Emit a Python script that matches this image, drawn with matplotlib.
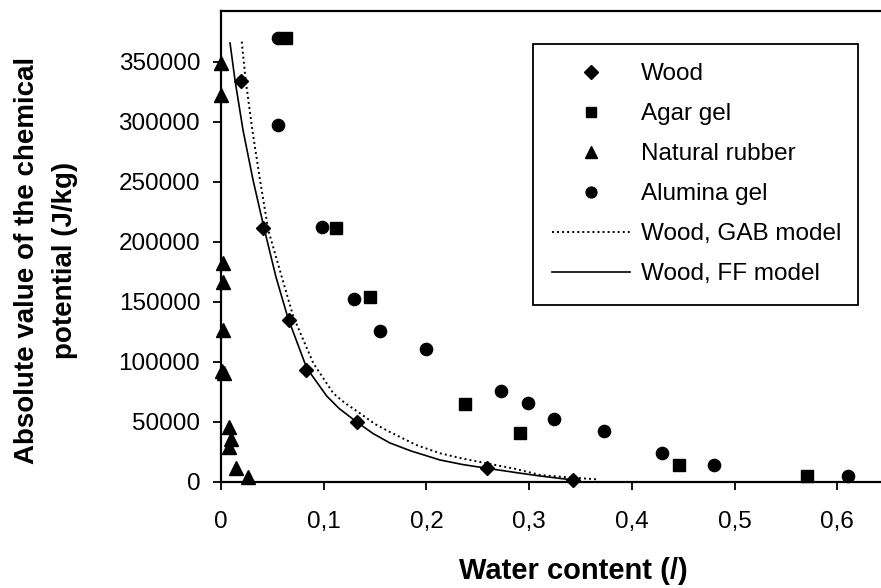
import numpy as np
import matplotlib.pyplot as plt
from matplotlib.lines import Line2D

plt.rcParams['font.family'] = ['Liberation Sans', 'DejaVu Sans']

# measured points
wood_x = [0.019, 0.041, 0.066, 0.083, 0.132, 0.259, 0.343]
wood_y = [333900, 211200, 134750, 93100, 49500, 11200, 1400]

agar_x = [0.063, 0.112, 0.145, 0.238, 0.291, 0.446, 0.570]
agar_y = [369500, 211200, 154200, 64500, 40800, 13900, 4750]

rubber_x = [0.0, 0.0, 0.0017, 0.0017, 0.0017, 0.001, 0.003, 0.0081, 0.0094, 0.0081, 0.0146, 0.0266]
rubber_y = [348600, 322200, 182500, 166700, 126400, 92500, 90500, 45800, 35300, 29200, 11200, 4200]

alumina_x = [0.055, 0.055, 0.098, 0.129, 0.155, 0.200, 0.273, 0.299, 0.324, 0.373, 0.429, 0.480, 0.610]
alumina_y = [369500, 297200, 212500, 152000, 125800, 110800, 75600, 65800, 52000, 42250, 24200, 13900, 5000]

# model curves
ff_x = [0.0088, 0.0136, 0.0214, 0.0312, 0.0419, 0.0535, 0.0652, 0.0834, 0.1029,
        0.115, 0.1321, 0.148, 0.1645, 0.185, 0.2132, 0.235, 0.2587, 0.29, 0.3106, 0.3430]
ff_y = [365600, 334750, 293100, 251400, 211400, 170600, 136400, 94750, 71400,
        61000, 49750, 40150, 32250, 25600, 18100, 14350, 11200, 7250, 4750, 1400]

gab_x = [0.0202, 0.0240, 0.0305, 0.0380, 0.0460, 0.0591, 0.0704, 0.0899, 0.1093,
         0.12, 0.1353, 0.15, 0.1645, 0.19, 0.2132, 0.235, 0.2587, 0.285, 0.3106, 0.34, 0.3658]
gab_y = [366700, 334750, 293100, 251400, 209750, 170800, 137500, 98700, 73700,
         66000, 57000, 48000, 41400, 30600, 23700, 19300, 15300, 11000, 5600, 3500, 2000]

xticks = [0, 0.1, 0.2, 0.3, 0.4, 0.5, 0.6]
xticklabels = ['0', '0,1', '0,2', '0,3', '0,4', '0,5', '0,6']
yticks = [0, 50000, 100000, 150000, 200000, 250000, 300000, 350000]

fig = plt.figure(figsize=(8.81, 5.88), dpi=100)
ax = fig.add_axes([221/881, 1 - 481.7/588, 659/881, 470.7/588])

ax.plot(gab_x, gab_y, color='black', lw=1.4, linestyle=(0, (1, 1.6)))
ax.plot(ff_x, ff_y, color='black', lw=1.2)
ax.plot(wood_x, wood_y, 'D', color='black', ms=7.6, ls='none', clip_on=False)
ax.plot(agar_x, agar_y, 's', color='black', ms=8.6, ls='none', clip_on=False)
ax.plot(rubber_x, rubber_y, '^', color='black', ms=10.5, ls='none', clip_on=False)
ax.plot(alumina_x, alumina_y, 'o', color='black', ms=8.8, ls='none', clip_on=False)

ax.set_xlim(0, 0.6415)
ax.set_ylim(0, 392250)
ax.set_xticks(xticks)
ax.set_xticklabels(xticklabels)
ax.set_yticks(yticks)
ax.set_yticklabels([str(v) for v in yticks])
ax.tick_params(direction='out', length=6, width=1.3, labelsize=17.5, colors='black')
ax.tick_params(axis='x', pad=15)
ax.tick_params(axis='y', pad=9)
ax.spines['right'].set_visible(False)
for s in ['left', 'bottom', 'top']:
    ax.spines[s].set_linewidth(1.6)

handles = [
    Line2D([], [], marker='D', color='black', ls='none', ms=6.8),
    Line2D([], [], marker='s', color='black', ls='none', ms=7.6),
    Line2D([], [], marker='^', color='black', ls='none', ms=9.0),
    Line2D([], [], marker='o', color='black', ls='none', ms=7.8),
    Line2D([], [], color='black', lw=1.4, linestyle=(0, (1, 1.6))),
    Line2D([], [], color='black', lw=1.2),
]
labels = ['Wood', 'Agar gel', 'Natural rubber', 'Alumina gel',
          'Wood, GAB model', 'Wood, FF model']
leg = ax.legend(handles, labels, loc='upper left',
                bbox_to_anchor=(0.4734, 0.3818, 0.4932, 0.5481), mode='expand',
                fontsize=17.5, frameon=True, fancybox=False, framealpha=1,
                edgecolor='black', borderpad=0.8, labelspacing=0.74,
                handlelength=3.2, handletextpad=0.45, borderaxespad=0)
leg.get_frame().set_linewidth(1.3)

fig.text(46/881, 1 - 260/588, 'Absolute value of the chemical\npotential (J/kg)',
         rotation=90, ha='center', va='center', fontsize=20, fontweight='bold',
         linespacing=1.6, multialignment='center')
fig.text(573/881, 1 - 571/588, 'Water content (/)', ha='center', va='center',
         fontsize=21, fontweight='bold')

fig.savefig('out.png', dpi=100)
